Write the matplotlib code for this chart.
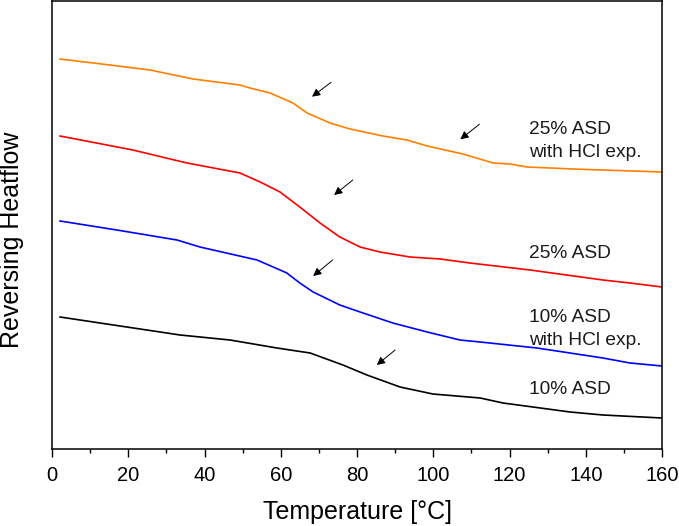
import matplotlib
matplotlib.use("Agg")
import matplotlib.pyplot as plt
from matplotlib.ticker import MultipleLocator

plt.rcParams['font.family'] = ['Liberation Sans', 'DejaVu Sans']

# Temperature [deg C] / reversing heat flow (arbitrary units)
t_orange = [2.1, 15.2, 25.7, 37, 49.3, 51.9, 57.2, 63.2, 66.9, 72.9, 78.2, 86.8,
            93.1, 98.4, 107.8, 115.7, 120.1, 124.6, 136.7, 160]
hf_orange = [390, 384, 379, 370, 364, 361, 356, 346, 336, 326, 320, 313,
             309, 303, 295, 286, 285, 282, 280, 277]

t_red = [2.1, 21.2, 35.4, 49.3, 54.6, 59.8, 65, 70.3, 75.5, 80.8, 86, 93.9,
         101.8, 109.6, 125.4, 144.5, 151.6, 160]
hf_red = [313, 299, 286, 276, 267, 257, 242, 226, 212, 202, 197, 192,
          190, 186, 179, 169, 166, 162]

t_blue = [2.1, 17, 32.8, 38.8, 53.8, 61.6, 65, 68.5, 75.5, 80.8, 89.4, 98.4,
          107, 112.3, 127.2, 144.5, 151.6, 160]
hf_blue = [228, 219, 209, 202, 189, 176, 166, 157, 144, 137, 126, 117,
           109, 107, 101, 91, 86, 83]

t_black = [2.1, 19.6, 33.6, 46.7, 59, 67.7, 76.3, 82.6, 91.3, 99.9, 112.3,
           118.3, 135.9, 144.5, 160]
hf_black = [132, 122, 114, 109, 101, 96, 84, 74, 62, 55, 51,
            46, 37, 34, 31]

series = [
    (t_orange, hf_orange, '#ff8000'),
    (t_red, hf_red, '#ff0000'),
    (t_blue, hf_blue, '#0000ff'),
    (t_black, hf_black, '#000000'),
]

# arrows marking the glass transitions: (x_tail, y_tail, x_head, y_head)
arrows = [
    (73.2, 366.7, 68.2, 352.3),
    (112.1, 324.7, 107.1, 309.7),
    (78.9, 269, 74.0, 254),
    (73.6, 189, 68.5, 173),
    (90.0, 99, 85.2, 84),
]

# label x, baseline of first line, text
labels = [
    (125.0, 315, "25% ASD\nwith HCl exp."),
    (125.0, 191, "25% ASD"),
    (125.0, 127, "10% ASD\nwith HCl exp."),
    (125.0, 55, "10% ASD"),
]
line_step = 23

fig = plt.figure(figsize=(6.79, 5.26), dpi=100)
ax = fig.add_axes([52 / 679, 1 - 449 / 526, 610 / 679, 448 / 526])

for t, hf, color in series:
    ax.plot(t, hf, color=color, lw=1.2)

for x0, y0, x1, y1 in arrows:
    ax.annotate("", xy=(x1, y1), xytext=(x0, y0),
                arrowprops=dict(arrowstyle="-|>", color='black', lw=0.7,
                                mutation_scale=12, shrinkA=0, shrinkB=0))

for x, y, txt in labels:
    for i, line in enumerate(txt.split("\n")):
        ax.text(x, y - i * line_step, line, fontsize=13.8, va='baseline',
                ha='left', color='#1a1a1a')

ax.set_xlim(0, 160)
ax.set_ylim(0, 448)
ax.xaxis.set_major_locator(MultipleLocator(20))
ax.xaxis.set_minor_locator(MultipleLocator(10))
ax.set_yticks([])
ax.tick_params(axis='x', which='major', direction='out', length=6, width=1,
               labelsize=14.5, pad=6)
ax.tick_params(axis='x', which='minor', direction='out', length=3, width=1)
for sp in ax.spines.values():
    sp.set_linewidth(1.1)

ax.set_xlabel("Temperature [°C]", fontsize=18, labelpad=11)
ax.set_ylabel("Reversing Heatflow", fontsize=18)
ax.yaxis.set_label_coords(-0.046, 0.4665)

fig.savefig("out.png", dpi=100)
